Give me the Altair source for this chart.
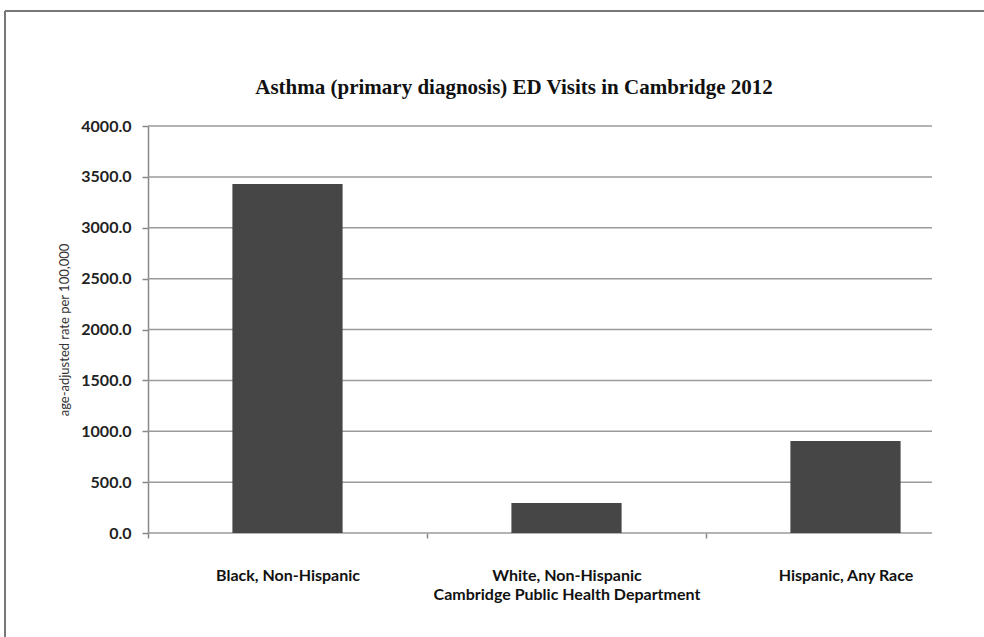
import altair as alt
import pandas as pd

categories = ["Black, Non-Hispanic", "White, Non-Hispanic", "Hispanic, Any Race"]
rates = [3430.0, 295.0, 905.0]
y_ticks = [0, 500, 1000, 1500, 2000, 2500, 3000, 3500, 4000]
title_text = "Asthma (primary diagnosis) ED Visits in Cambridge 2012"

df = pd.DataFrame({"group": categories, "rate": rates})
grid_df = pd.DataFrame({"v": y_ticks})

W, H = 784, 407
PL, PT = 148, 126

yscale = alt.Scale(domain=[0, 4000], nice=False)
yaxis = alt.Axis(title="age-adjusted rate per 100,000", values=y_ticks, format=".1f",
                 grid=False,
                 domain=True, domainColor="#888888", domainWidth=1.5,
                 tickSize=6, tickColor="#888888", tickWidth=1.5,
                 labelFont="Lato", labelFontSize=16, labelFontWeight="bold",
                 labelColor="#222222", labelPadding=11,
                 titleFont="Lato", titleFontSize=13, titleFontWeight="normal",
                 titleColor="#333333", titlePadding=9)

grid = alt.Chart(grid_df).mark_rule(color="#9a9a9a", strokeWidth=1.5).encode(
    y=alt.Y("v:Q", scale=yscale, axis=yaxis), x=alt.value(0), x2=alt.value(W))

bars = alt.Chart(df).mark_bar(color="#464646", width=alt.RelativeBandSize(0.395)).encode(
    x=alt.X("group:N", sort=categories,
            scale=alt.Scale(domain=categories, range=[0, 837], paddingInner=0, paddingOuter=0),
            axis=alt.Axis(title="Cambridge Public Health Department", labelAngle=0,
                          tickBand="extent", domain=False, grid=False,
                          ticks=True, tickSize=5, tickColor="#888888", tickWidth=1.5,
                          labelFont="Lato", labelFontSize=16, labelFontWeight="bold",
                          labelColor="#111111", labelPadding=29,
                          titleFont="Lato", titleFontSize=16, titleFontWeight="bold",
                          titleColor="#111111", titlePadding=3)),
    y=alt.Y("rate:Q", scale=yscale, axis=yaxis),
)

one = pd.DataFrame({"t": [title_text]})
title = alt.Chart(one).mark_text(font="Liberation Serif", fontSize=21, fontWeight="bold",
                                 color="#111111", align="center", baseline="middle").encode(
    text="t:N", x=alt.value(514 - PL), y=alt.value(88 - PT))

top_rule = alt.Chart(one).mark_rule(color="#777777", strokeWidth=2).encode(
    x=alt.value(-PL + 5), x2=alt.value(984 - PL), y=alt.value(-PT + 11))
left_rule = alt.Chart(one).mark_rule(color="#777777", strokeWidth=2).encode(
    x=alt.value(-PL + 5), y=alt.value(-PT + 11), y2=alt.value(637 - PT))

chart = alt.layer(grid, bars, title, top_rule, left_rule).properties(
    width=W, height=H,
    autosize=alt.AutoSizeParams(type="none"),
    padding={"left": PL, "top": PT, "right": 984 - PL - W, "bottom": 637 - PT - H},
).configure(background="white").configure_view(stroke=None)

chart.save("out.html", embed_options={"renderer": "svg", "actions": False})
